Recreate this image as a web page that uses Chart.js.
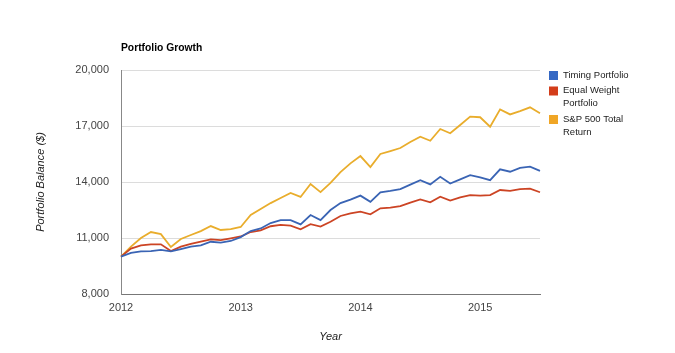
<!DOCTYPE html>
<html>
<head>
<meta charset="utf-8">
<script src="https://cdn.jsdelivr.net/npm/chart.js@4"></script>
<style>
  html, body { margin: 0; padding: 0; background: #fff; }
  #wrap { width: 675px; height: 353px; position: relative; }
</style>
</head>
<body>
<div id="wrap"><canvas id="myChart"></canvas></div>
<script>
// Months on the x axis (Jan 2012 .. Jul 2015)

var months = [
  "2012-01", "2012-02", "2012-03", "2012-04", "2012-05", "2012-06", "2012-07", "2012-08", "2012-09", "2012-10", "2012-11", "2012-12",
  "2013-01", "2013-02", "2013-03", "2013-04", "2013-05", "2013-06", "2013-07", "2013-08", "2013-09", "2013-10", "2013-11", "2013-12",
  "2014-01", "2014-02", "2014-03", "2014-04", "2014-05", "2014-06", "2014-07", "2014-08", "2014-09", "2014-10", "2014-11", "2014-12",
  "2015-01", "2015-02", "2015-03", "2015-04", "2015-05", "2015-06", "2015-07"
];

// Portfolio balances

var timing = [
  10000, 10200, 10280, 10300, 10360, 10280, 10410, 10540, 10600, 10800, 10750, 10840,
  11050, 11370, 11510, 11800, 11960, 11960, 11730, 12230, 11960, 12500, 12870, 13060,
  13270, 12940, 13450, 13520, 13620, 13860, 14100, 13870, 14280, 13920, 14140, 14370,
  14250, 14100, 14680, 14550, 14760, 14820, 14600
];
var equalWeight = [
  10000, 10430, 10600, 10660, 10660, 10300, 10540, 10680, 10810, 10930, 10890, 10980,
  11080, 11320, 11410, 11630, 11700, 11660, 11470, 11740, 11610, 11870, 12180, 12320,
  12410, 12270, 12590, 12630, 12710, 12900, 13070, 12910, 13210, 13000, 13180, 13300,
  13270, 13300, 13570, 13530, 13620, 13640, 13450
];
var sp500 = [
  10000, 10540, 11000, 11320, 11210, 10520, 10950, 11160, 11370, 11640, 11430, 11480,
  11590, 12230, 12550, 12870, 13140, 13410, 13200, 13890, 13460, 13950, 14530, 15000,
  15390, 14800, 15500, 15660, 15820, 16140, 16430, 16210, 16840, 16610, 17050, 17500,
  17470, 16960, 17890, 17620, 17800, 18000, 17680
];

var seriesNames = [["Timing Portfolio"], ["Equal Weight", "Portfolio"], ["S&P 500 Total", "Return"]];
var seriesColors = ["#3568c4", "#d33d1a", "#f0a626"];
var lineColors = ["#3a64b4", "#cc4424", "#e9ad2c"];
var yTicks = [8000, 11000, 14000, 17000, 20000];

// Title and legend are drawn by hand so they sit where the original has them

var sidePlugin = {
  id: "sideBits",
  afterDraw: function (chart) {
    var ctx = chart.ctx;
    var area = chart.chartArea;
    ctx.save();
    ctx.fillStyle = "#000";
    ctx.font = "bold 10.3px Arial, 'Liberation Sans', sans-serif";
    ctx.textBaseline = "middle";
    ctx.textAlign = "left";
    ctx.fillText("Portfolio Growth", area.left, 48);

    ctx.font = "9.5px Arial, 'Liberation Sans', sans-serif";
    var y = 75;
    for (var i = 0; i < seriesNames.length; i++) {
      ctx.fillStyle = seriesColors[i];
      ctx.fillRect(549, y - 4, 9, 9);
      ctx.fillStyle = "#222";
      for (var j = 0; j < seriesNames[i].length; j++) {
        ctx.fillText(seriesNames[i][j], 563, y);
        y += 13;
      }
      y += 2.5;
    }
    ctx.restore();
  }
};

var lines = [timing, equalWeight, sp500];
var datasets = lines.map(function (vals, i) {
  return {
    label: seriesNames[i].join(" "),
    data: vals,
    borderColor: lineColors[i],
    backgroundColor: lineColors[i],
    borderWidth: 1.8,
    pointRadius: 0,
    tension: 0,
    fill: false
  };
});

var tickFont = { family: "Arial, 'Liberation Sans', sans-serif", size: 11 };
var titleFont = { family: "Arial, 'Liberation Sans', sans-serif", size: 11, style: "italic" };

new Chart("myChart", {
  type: "line",
  data: { labels: months, datasets: datasets },
  plugins: [sidePlugin],
  options: {
    responsive: true,
    maintainAspectRatio: false,
    animation: false,
    layout: { padding: { left: 30, top: 70, right: 135, bottom: 5 } },
    plugins: {
      legend: { display: false },
      title: { display: false },
      tooltip: { enabled: false }
    },
    scales: {
      x: {
        offset: false,
        grid: { display: false, drawTicks: false },
        border: { display: true, color: "#777", width: 1 },
        ticks: {
          autoSkip: false,
          maxRotation: 0,
          padding: 7,
          color: "#444",
          font: tickFont,
          callback: function (value, index) {
            var m = months[index];
            return m.slice(5) === "01" ? m.slice(0, 4) : "";
          }
        },
        title: { display: true, text: "Year", color: "#222", font: titleFont },
        afterFit: function (scale) { scale.height = 54; }
      },
      y: {
        min: 8000,
        max: 20000,
        grid: { color: "#dcdcdc", drawTicks: false },
        border: { display: true, color: "#888", width: 1 },
        afterBuildTicks: function (scale) {
          scale.ticks = yTicks.map(function (v) { return { value: v }; });
        },
        ticks: {
          padding: 12,
          color: "#444",
          font: tickFont,
          callback: function (value) { return value.toLocaleString("en-US"); }
        },
        title: { display: true, text: "Portfolio Balance ($)", color: "#222", font: titleFont },
        afterFit: function (scale) { scale.width = 91; }
      }
    }
  }
});
</script>
</body>
</html>
